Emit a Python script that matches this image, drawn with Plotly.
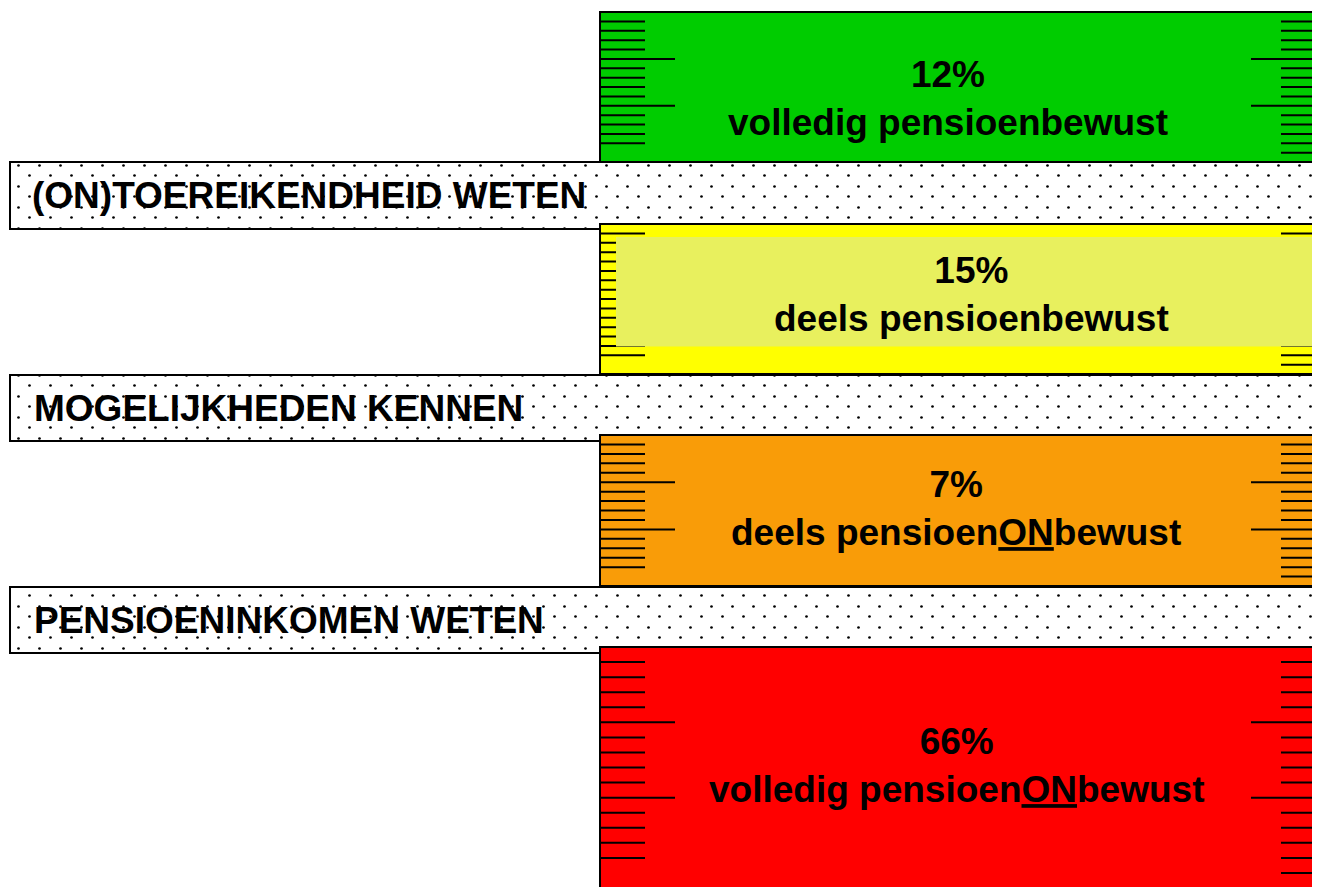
import plotly.graph_objects as go

# ---- data ----
band_labels = ["(ON)TOEREIKENDHEID WETEN", "MOGELIJKHEDEN KENNEN", "PENSIOENINKOMEN WETEN"]
group_pct = [12, 15, 7, 66]
group_names = ["volledig pensioenbewust", "deels pensioenbewust",
               "deels pensioen<u>ON</u>bewust", "volledig pensioen<u>ON</u>bewust"]
group_colors = ["#00CC00", "#FFFF00", "#F99C08", "#FF0000"]

# ---- layout geometry (page pixel units) ----
block_top = [12, 224, 435, 647]
block_bottom = [162, 374, 586, 888]
band_top = [162, 375, 587]
band_bottom = [229, 441, 653]
block_left = 600
band_left = 10
right_edge = 1345
text_x = [948, 971, 956, 956]
text_y = [98, 294, 508, 765]
label_x = [30, 32, 32]
overlay_box = (616, 237, 1345, 346.5)   # lighter area in yellow block
overlay_color = "#E8F05E"

FONT = "Arial, 'Liberation Sans', sans-serif"
FIG_W, FIG_H = 1312, 879
OFF = 8            # page offset of the plot div
DOT = 21           # dot pattern period
SHIFT_X, SHIFT_Y = 11, 10   # offset of second dot lattice (staggered look)
TRANSP = "rgba(0,0,0,0)"

band_y = [(t + b) / 2 for t, b in zip(band_top, band_bottom)]
band_w = [b - t for t, b in zip(band_top, band_bottom)]
band_len = [right_edge - band_left] * len(band_top)

fig = go.Figure()

# second (shifted) dot lattice of the bands, on a shifted subplot
fig.add_trace(go.Bar(
    orientation="h", y=band_y, width=band_w,
    base=[band_left] * len(band_top), x=band_len,
    xaxis="x", yaxis="y",
    marker=dict(color=TRANSP, line=dict(width=0),
                pattern=dict(shape=".", fgcolor="black", bgcolor=TRANSP,
                             size=DOT, solidity=0.013, fillmode="replace")),
    hoverinfo="skip",
))

# dotted bands with border
fig.add_trace(go.Bar(
    orientation="h", y=band_y, width=band_w,
    base=[band_left] * len(band_top), x=band_len,
    xaxis="x2", yaxis="y2",
    marker=dict(color=TRANSP, line=dict(color="black", width=2),
                pattern=dict(shape=".", fgcolor="black", bgcolor=TRANSP,
                             size=DOT, solidity=0.013, fillmode="replace")),
    hoverinfo="skip",
))

# coloured blocks
fig.add_trace(go.Bar(
    orientation="h",
    y=[(t + b) / 2 for t, b in zip(block_top, block_bottom)],
    width=[b - t for t, b in zip(block_top, block_bottom)],
    base=[block_left] * len(block_top),
    x=[right_edge - block_left] * len(block_top),
    xaxis="x2", yaxis="y2",
    marker=dict(color=group_colors, line=dict(color="black", width=2)),
    hoverinfo="skip",
))

# ruler ticks
tx, ty = [], []
for t, b in zip(block_top, block_bottom):
    step = (b - t) / 16
    for k in range(1, 15):
        yk = t + k * step
        tx += [block_left + 1, block_left + (75 if k in (5, 10) else 45), None]
        ty += [yk, yk, None]
    for k in range(1, 16):
        yk = t + k * step
        tx += [1320 - (69 if k in (5, 10) else 39), right_edge, None]
        ty += [yk, yk, None]
fig.add_trace(go.Scatter(x=tx, y=ty, mode="lines", xaxis="x2", yaxis="y2",
                         line=dict(color="black", width=2), hoverinfo="skip"))

# lighter overlay in the yellow block
x0, y0, x1, y1 = overlay_box
fig.add_trace(go.Scatter(x=[x0, x1, x1, x0, x0], y=[y0, y0, y1, y1, y0],
                         xaxis="x2", yaxis="y2",
                         mode="lines", fill="toself", fillcolor=overlay_color,
                         line=dict(width=0, color=overlay_color), hoverinfo="skip"))

annotations = []
for lab, lx, yc in zip(band_labels, label_x, band_y):
    annotations.append(dict(x=lx, y=yc, xref="x2", yref="y2",
                            text=f"<b>{lab}</b>", showarrow=False,
                            xanchor="left", yanchor="middle",
                            font=dict(family=FONT, size=37, color="black")))
for p, n, x, y in zip(group_pct, group_names, text_x, text_y):
    annotations.append(dict(x=x, y=y, xref="x2", yref="y2",
                            text=f"<b>{p}%</b><br><b>{n}</b>", showarrow=False,
                            xanchor="center", yanchor="middle", align="center",
                            font=dict(family=FONT, size=37, color="black")))

fig.update_layout(
    width=FIG_W, height=FIG_H,
    margin=dict(l=0, r=0, t=0, b=0),
    paper_bgcolor="white", plot_bgcolor=TRANSP,
    barmode="overlay", showlegend=False,
    xaxis=dict(domain=[SHIFT_X / FIG_W, 1], anchor="y",
               range=[OFF + SHIFT_X, OFF + FIG_W], visible=False, fixedrange=True),
    yaxis=dict(domain=[0, 1 - SHIFT_Y / FIG_H], anchor="x",
               range=[OFF + FIG_H, OFF + SHIFT_Y], visible=False, fixedrange=True),
    xaxis2=dict(domain=[0, 1], anchor="y2",
                range=[OFF, OFF + FIG_W], visible=False, fixedrange=True),
    yaxis2=dict(domain=[0, 1], anchor="x2",
                range=[OFF + FIG_H, OFF], visible=False, fixedrange=True),
    annotations=annotations,
)

fig.write_html("out.html")
